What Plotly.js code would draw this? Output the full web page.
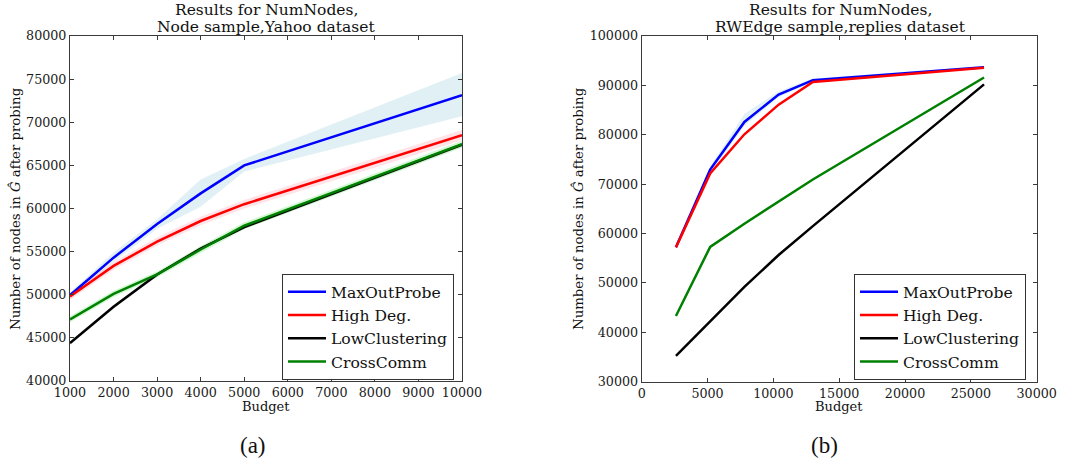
<!DOCTYPE html>
<html>
<head>
<meta charset="utf-8">
<script src="https://cdn.plot.ly/plotly-3.0.1.min.js"></script>
<style>html,body{margin:0;padding:0;background:#fff;}#chart{width:1074px;height:463px;}</style>
</head>
<body>
<div id="chart"></div>
<script>
// ---- Panel (a): Node sample, Yahoo dataset ----
const budgetA = [1000, 2000, 3000, 4000, 5000, 10000];
const maxOutA = [49950, 54300, 58200, 61750, 65000, 73150];
const maxOutA_lo = [49650, 53800, 57650, 60200, 64300, 70700];
const maxOutA_hi = [50250, 54900, 58750, 63350, 65750, 75700];
const highDegA = [49800, 53350, 56150, 58550, 60500, 68500];
const highDegA_lo = [49400, 52900, 55700, 58050, 60000, 67900];
const highDegA_hi = [50200, 53800, 56650, 59050, 61000, 69100];
const lowClusA = [44400, 48600, 52350, 55350, 57850, 67400];
const lowClusA_lo = [44200, 48400, 52150, 55150, 57650, 67200];
const lowClusA_hi = [44600, 48800, 52550, 55550, 58050, 67600];
const crossA = [47150, 50100, 52350, 55250, 58000, 67450];
const crossA_lo = [46800, 49750, 52000, 54850, 57600, 67050];
const crossA_hi = [47500, 50450, 52700, 55650, 58400, 67850];

// ---- Panel (b): RWEdge sample, replies dataset ----
const budgetB = [2600, 5200, 7800, 10400, 13000, 26000];
const maxOutB = [57200, 72950, 82600, 88150, 91050, 93650];
const maxOutB_lo = [56900, 72300, 81800, 87600, 90700, 93350];
const maxOutB_hi = [57500, 73600, 84200, 88800, 91400, 93950];
const highDegB = [57200, 72150, 80100, 86100, 90700, 93550];
const lowClusB = [35250, 42150, 49200, 55650, 61500, 90200];
const crossB = [43300, 57300, 62000, 66400, 70950, 91600];

const names = ['MaxOutProbe', 'High Deg.', 'LowClustering', 'CrossComm'];
const lineColors = ['#0000ff', '#ff0000', '#000000', '#008000'];
const bandColors = ['rgba(173,216,230,0.38)', 'rgba(255,182,193,0.38)', 'rgba(110,110,110,0.35)', 'rgba(144,238,144,0.42)'];

function band(x, lo, hi, color, xa, ya) {
  return {
    x: x.concat(x.slice().reverse()),
    y: hi.concat(lo.slice().reverse()),
    xaxis: xa, yaxis: ya,
    mode: 'lines', fill: 'toself', fillcolor: color,
    line: {width: 0, color: 'rgba(0,0,0,0)'},
    hoverinfo: 'skip', showlegend: false
  };
}
function line(x, y, i, xa, ya, leg) {
  return {
    x: x, y: y, xaxis: xa, yaxis: ya, mode: 'lines', name: names[i],
    line: {color: lineColors[i], width: 2.5}, legend: leg
  };
}

const data = [
  band(budgetA, maxOutA_lo, maxOutA_hi, bandColors[0], 'x', 'y'),
  band(budgetA, highDegA_lo, highDegA_hi, bandColors[1], 'x', 'y'),
  band(budgetA, lowClusA_lo, lowClusA_hi, bandColors[2], 'x', 'y'),
  band(budgetA, crossA_lo, crossA_hi, bandColors[3], 'x', 'y'),
  line(budgetA, maxOutA, 0, 'x', 'y', 'legend'),
  line(budgetA, highDegA, 1, 'x', 'y', 'legend'),
  line(budgetA, lowClusA, 2, 'x', 'y', 'legend'),
  line(budgetA, crossA, 3, 'x', 'y', 'legend'),
  band(budgetB, maxOutB_lo, maxOutB_hi, bandColors[0], 'x2', 'y2'),
  line(budgetB, maxOutB, 0, 'x2', 'y2', 'legend2'),
  line(budgetB, highDegB, 1, 'x2', 'y2', 'legend2'),
  line(budgetB, lowClusB, 2, 'x2', 'y2', 'legend2'),
  line(budgetB, crossB, 3, 'x2', 'y2', 'legend2')
];

const W = 1074, H = 463;
const serif = 'DejaVu Serif, serif';
const tickFont = {family: serif, size: 12.7, color: '#1a1a1a'};
function ax(extra) {
  return Object.assign({
    showline: true, mirror: 'ticks', linecolor: '#3a3a3a', linewidth: 1,
    ticks: 'inside', ticklen: 4, tickcolor: '#3a3a3a', tickwidth: 1,
    showgrid: false, zeroline: false, tickfont: tickFont, tickformat: 'd',
    fixedrange: true
  }, extra);
}
const legStyle = {
  bgcolor: '#ffffff', bordercolor: '#333333', borderwidth: 1,
  font: {family: serif, size: 15.6, color: '#111'},
  xanchor: 'left', yanchor: 'top', tracegroupgap: 0, itemwidth: 38
};
function ann(text, x, y, size, extra) {
  return Object.assign({
    text: text, x: x / W, y: 1 - y / H, xref: 'paper', yref: 'paper',
    showarrow: false, xanchor: 'center', yanchor: 'middle',
    font: {family: serif, size: size, color: '#111'}
  }, extra || {});
}
const ylab = 'Number of nodes in <i>Ĝ</i> after probing';

const layout = {
  width: W, height: H,
  margin: {l: 0, r: 0, t: 0, b: 0},
  paper_bgcolor: '#ffffff', plot_bgcolor: '#ffffff',
  xaxis: ax({domain: [70 / W, 462 / W], range: [1000, 10000], tick0: 1000, dtick: 1000, anchor: 'y'}),
  yaxis: ax({domain: [1 - 381 / H, 1 - 36 / H], range: [40000, 80000], tick0: 40000, dtick: 5000, anchor: 'x'}),
  xaxis2: ax({domain: [641.7 / W, 1036.7 / W], range: [0, 30000], tick0: 0, dtick: 5000, anchor: 'y2'}),
  yaxis2: ax({domain: [1 - 381.7 / H, 1 - 36 / H], range: [30000, 100000], tick0: 30000, dtick: 10000, anchor: 'x2'}),
  legend: Object.assign({x: 282 / W, y: 1 - 274 / H}, legStyle),
  legend2: Object.assign({x: 854 / W, y: 1 - 274 / H}, legStyle),
  showlegend: true,
  annotations: [
    ann('Results for NumNodes,', 266, 10.5, 15.5),
    ann('Node sample,Yahoo dataset', 266, 27, 15.5),
    ann('Results for NumNodes,', 840, 10.5, 15.5),
    ann('RWEdge sample,replies dataset', 840, 27, 15.5),
    ann('Budget', 266, 406, 13),
    ann('Budget', 839, 406, 13),
    ann(ylab, 15, 209, 13.3, {textangle: -90}),
    ann(ylab, 578, 209, 13.3, {textangle: -90}),
    ann('(a)', 253, 445, 23, {font: {family: 'Liberation Serif, serif', size: 23, color: '#111'}}),
    ann('(b)', 824, 445, 23, {font: {family: 'Liberation Serif, serif', size: 23, color: '#111'}})
  ]
};

Plotly.newPlot('chart', data, layout, {displayModeBar: false, staticPlot: true});
</script>
</body>
</html>
